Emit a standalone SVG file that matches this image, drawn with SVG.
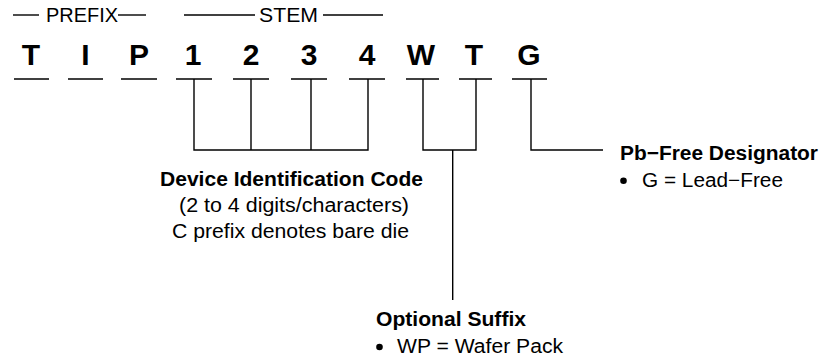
<svg xmlns="http://www.w3.org/2000/svg" width="827" height="363" viewBox="0 0 827 363">
<style>
.big{font-family:"Liberation Sans",Arial,sans-serif;font-weight:bold;font-size:30px;fill:#000;text-anchor:middle}
.hdr{font-family:"Liberation Sans",Arial,sans-serif;font-size:20px;fill:#000}
.b{font-family:"Liberation Sans",Arial,sans-serif;font-weight:bold;font-size:20px;fill:#000}
.r{font-family:"Liberation Sans",Arial,sans-serif;font-size:20px;fill:#000}
.ln{stroke:#000;stroke-width:1.4;fill:none}
</style>
<rect width="827" height="363" fill="#fff"/>
<g id="header">
  <line class="ln" x1="13" y1="15" x2="39" y2="15"/>
  <text class="hdr" x="46" y="22" textLength="72" lengthAdjust="spacingAndGlyphs">PREFIX</text>
  <line class="ln" x1="118" y1="15" x2="146" y2="15"/>
  <line class="ln" x1="184" y1="15" x2="255" y2="15"/>
  <text class="hdr" x="259" y="22" textLength="59" lengthAdjust="spacingAndGlyphs">STEM</text>
  <line class="ln" x1="323" y1="15" x2="383" y2="15"/>
</g>
<g id="characters">
  <g id="char-T1"><text class="big" x="31" y="65">T</text><line class="ln" x1="14" y1="79" x2="49" y2="79"/></g>
  <g id="char-I"><text class="big" x="85.5" y="65">I</text><line class="ln" x1="68" y1="79" x2="103" y2="79"/></g>
  <g id="char-P"><text class="big" x="139" y="65">P</text><line class="ln" x1="121" y1="79" x2="157" y2="79"/></g>
  <g id="char-1"><text class="big" x="193" y="65">1</text><line class="ln" x1="176" y1="79" x2="212" y2="79"/></g>
  <g id="char-2"><text class="big" x="251" y="65">2</text><line class="ln" x1="233" y1="79" x2="269" y2="79"/></g>
  <g id="char-3"><text class="big" x="309" y="65">3</text><line class="ln" x1="291" y1="79" x2="327" y2="79"/></g>
  <g id="char-4"><text class="big" x="367" y="65">4</text><line class="ln" x1="349" y1="79" x2="385" y2="79"/></g>
  <g id="char-W"><text class="big" x="421" y="65">W</text><line class="ln" x1="406" y1="79" x2="439" y2="79"/></g>
  <g id="char-T2"><text class="big" x="474" y="65">T</text><line class="ln" x1="459" y1="79" x2="492" y2="79"/></g>
  <g id="char-G"><text class="big" x="529" y="65">G</text><line class="ln" x1="512" y1="79" x2="547" y2="79"/></g>
</g>
<g id="connectors">
  <path class="ln" d="M194,79 V150 H368 V79 M251,79 V150 M311,79 V150"/>
  <path class="ln" d="M423,79 V150 H476 V79 M452.7,150 V300"/>
  <path class="ln" d="M531,79 V150 H603"/>
</g>
<g id="device-id">
  <text class="b" x="160" y="186" textLength="263" lengthAdjust="spacingAndGlyphs">Device Identification Code</text>
  <text class="r" x="179" y="212" textLength="230" lengthAdjust="spacingAndGlyphs">(2 to 4 digits/characters)</text>
  <text class="r" x="172" y="238" textLength="237" lengthAdjust="spacingAndGlyphs">C prefix denotes bare die</text>
</g>
<g id="pb-free">
  <text class="b" x="620" y="160" textLength="198" lengthAdjust="spacingAndGlyphs">Pb−Free Designator</text>
  <circle cx="623.5" cy="180.7" r="3.3" fill="#000"/>
  <text class="r" x="642" y="187" textLength="141" lengthAdjust="spacingAndGlyphs">G = Lead−Free</text>
</g>
<g id="optional-suffix">
  <text class="b" x="376" y="326" textLength="150" lengthAdjust="spacingAndGlyphs">Optional Suffix</text>
  <circle cx="379.5" cy="347" r="3.3" fill="#000"/>
  <text class="r" x="397" y="353" textLength="166" lengthAdjust="spacingAndGlyphs">WP = Wafer Pack</text>
</g>
</svg>
